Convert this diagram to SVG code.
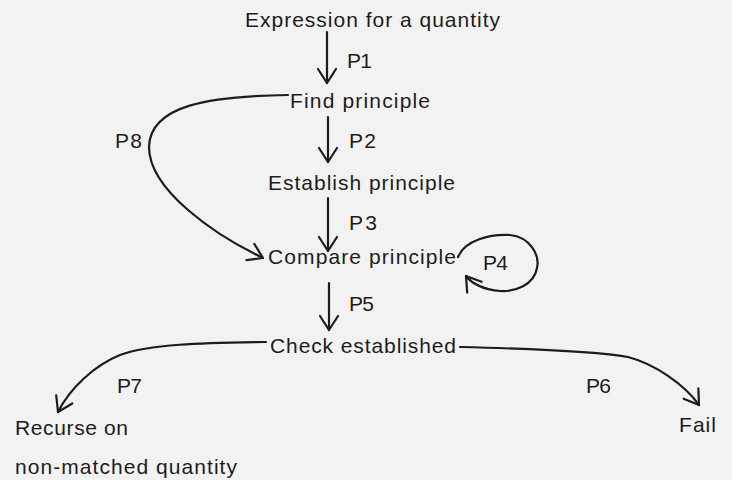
<svg xmlns="http://www.w3.org/2000/svg" width="732" height="480" viewBox="0 0 732 480">
<style>
.t{font-family:"Liberation Sans",Arial,sans-serif;font-size:21px;fill:#1c1c1c}
.c{fill:none;stroke:#1c1c1c;stroke-width:2.2;stroke-linecap:round}
</style>
<defs>
<marker id="ah" viewBox="-16 -11 18 22" refX="0" refY="0" markerWidth="18" markerHeight="22" markerUnits="userSpaceOnUse" orient="auto">
<path d="M-14,-9 L0,0 L-14,9" fill="none" stroke="#1c1c1c" stroke-width="2.2" stroke-linecap="round" stroke-linejoin="round"/>
</marker>
</defs>
<rect width="732" height="480" fill="#f2f2f2"/>
<g id="connectors">
<path class="c" d="M327,32 L327,83" marker-end="url(#ah)"/>
<path class="c" d="M328,117 L328,162" marker-end="url(#ah)"/>
<path class="c" d="M328,198 L328,251" marker-end="url(#ah)"/>
<path class="c" d="M329,283 L329,330" marker-end="url(#ah)"/>
<path class="c" d="M288,95 C210,96 150,105 149,147 C149,190 215,235 263,258" marker-end="url(#ah)"/>
<path class="c" d="M458,257 C465,240 490,234 510,235 C530,237 540,255 537,268 C534,285 515,292 500,291 C485,290 472,284 466,276" marker-end="url(#ah)"/>
<path class="c" d="M266,342 C200,343 150,344 120,355 C95,365 70,388 58,412" marker-end="url(#ah)"/>
<path class="c" d="M460,347 C540,349 600,352 628,357 C655,364 685,385 699,405" marker-end="url(#ah)"/>
</g>
<g id="labels">
<text class="t" x="347" y="68" textLength="25">P1</text>
<text class="t" x="349" y="148" textLength="27">P2</text>
<text class="t" x="349" y="230" textLength="28">P3</text>
<text class="t" x="483" y="270" textLength="25">P4</text>
<text class="t" x="349" y="311" textLength="25">P5</text>
<text class="t" x="586" y="393" textLength="25">P6</text>
<text class="t" x="117" y="393" textLength="25">P7</text>
<text class="t" x="115" y="148" textLength="27">P8</text>
</g>
<g id="expression"><text class="t" x="245" y="27" textLength="255">Expression for a quantity</text></g>
<g id="find"><text class="t" x="290" y="108" textLength="140">Find principle</text></g>
<g id="establish"><text class="t" x="268" y="190" textLength="187">Establish principle</text></g>
<g id="compare"><text class="t" x="268" y="264" textLength="188">Compare principle</text></g>
<g id="check"><text class="t" x="270" y="353" textLength="186">Check established</text></g>
<g id="fail"><text class="t" x="679" y="432" textLength="37">Fail</text></g>
<g id="recurse">
<text class="t" x="15" y="435" textLength="113">Recurse on</text>
<text class="t" x="15" y="474" textLength="222">non-matched quantity</text>
</g>
</svg>
